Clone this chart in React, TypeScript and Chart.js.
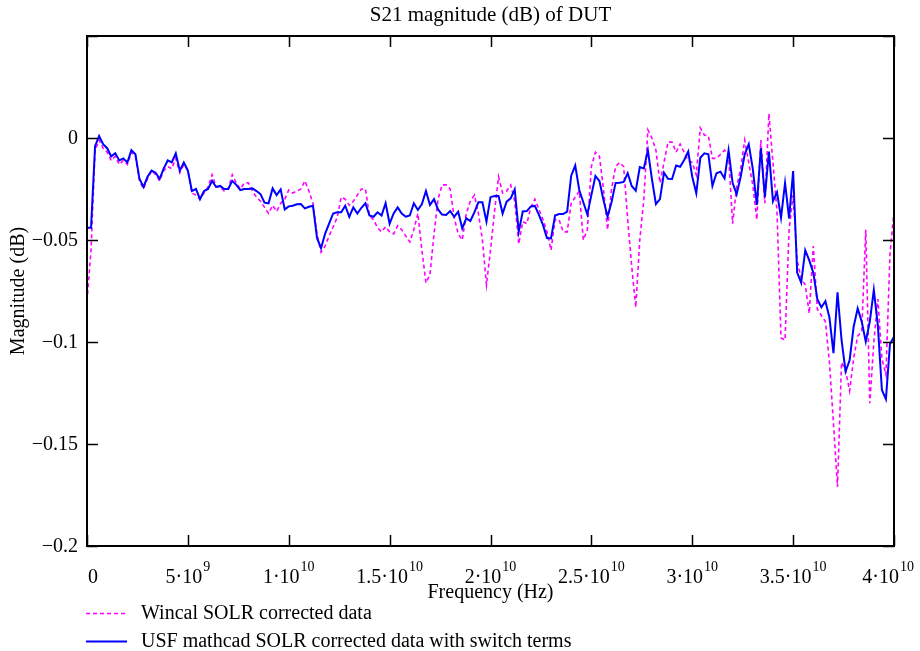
import React, { useEffect, useRef } from "react";
import { Chart, registerables } from "chart.js";

Chart.register(...registerables);

// Frequency sweep: 0 .. 40 GHz, 201 points (0.2 GHz step)
const FREQ_START_HZ = 0;
const FREQ_STEP_HZ = 2e8;

// Wincal SOLR corrected data (dB)
const WINCAL_DB = [
  -0.080, -0.055, -0.006, -0.001, -0.005, -0.007, -0.011, -0.009, -0.013, -0.011,
  -0.013, -0.007, -0.009, -0.021, -0.025, -0.020, -0.016, -0.018, -0.021, -0.016,
  -0.014, -0.015, -0.010, -0.017, -0.013, -0.016, -0.027, -0.028, -0.030, -0.027,
  -0.024, -0.018, -0.024, -0.024, -0.026, -0.025, -0.018, -0.022, -0.025, -0.022,
  -0.022, -0.026, -0.029, -0.031, -0.034, -0.037, -0.033, -0.036, -0.032, -0.030,
  -0.0255, -0.027, -0.026, -0.025, -0.021, -0.026, -0.032, -0.047, -0.056, -0.053,
  -0.048, -0.0435, -0.039, -0.029, -0.030, -0.033, -0.031, -0.028, -0.025, -0.025,
  -0.038, -0.040, -0.044, -0.046, -0.0435, -0.046, -0.047, -0.043, -0.045, -0.048,
  -0.051, -0.045, -0.037, -0.055, -0.071, -0.067, -0.047, -0.030, -0.023, -0.023,
  -0.025, -0.039, -0.047, -0.050, -0.037, -0.031, -0.028, -0.037, -0.050, -0.072,
  -0.055, -0.036, -0.019, -0.027, -0.026, -0.023, -0.031, -0.052, -0.041, -0.042,
  -0.034, -0.030, -0.035, -0.040, -0.046, -0.055, -0.040, -0.040, -0.046, -0.046,
  -0.032, -0.029, -0.026, -0.050, -0.045, -0.014, -0.007, -0.009, -0.025, -0.045,
  -0.025, -0.014, -0.012, -0.014, -0.040, -0.063, -0.083, -0.050, -0.030, 0.004,
  0.000, -0.006, -0.022, -0.012, -0.002, -0.002, -0.007, -0.003, -0.007, -0.011,
  -0.012, -0.018, 0.005, 0.0015, 0.001, -0.010, -0.010, -0.008, -0.006, -0.008,
  -0.042, -0.024, -0.015, -0.001, -0.012, -0.023, -0.040, -0.001, -0.032, 0.012,
  -0.012, -0.036, -0.098, -0.099, -0.045, -0.028, -0.060, -0.069, -0.072, -0.086,
  -0.053, -0.084, -0.087, -0.090, -0.110, -0.140, -0.171, -0.110, -0.114, -0.124,
  -0.108, -0.097, -0.095, -0.045, -0.130, -0.100, -0.079, -0.108, -0.116, -0.057,
  -0.036,
];

// USF mathcad SOLR corrected data with switch terms (dB)
const USF_DB = [
  -0.044, -0.044, -0.004, 0.001, -0.003, -0.005, -0.009, -0.0075, -0.011, -0.010,
  -0.012, -0.006, -0.008, -0.020, -0.024, -0.019, -0.016, -0.017, -0.020, -0.015,
  -0.011, -0.012, -0.0075, -0.016, -0.012, -0.016, -0.026, -0.025, -0.030, -0.026,
  -0.025, -0.021, -0.024, -0.0235, -0.025, -0.025, -0.021, -0.023, -0.0255, -0.025,
  -0.025, -0.0247, -0.026, -0.0275, -0.0317, -0.032, -0.0247, -0.028, -0.0252, -0.035,
  -0.0335, -0.0332, -0.0325, -0.0324, -0.0345, -0.0337, -0.0332, -0.049, -0.054, -0.047,
  -0.042, -0.037, -0.0364, -0.0364, -0.0332, -0.0386, -0.034, -0.037, -0.0342, -0.032,
  -0.038, -0.0386, -0.0364, -0.038, -0.032, -0.042, -0.037, -0.034, -0.037, -0.0386,
  -0.038, -0.032, -0.0353, -0.0324, -0.026, -0.0328, -0.030, -0.035, -0.0375, -0.0377,
  -0.0358, -0.0386, -0.0361, -0.0443, -0.0394, -0.0407, -0.0365, -0.0315, -0.0315, -0.041,
  -0.029, -0.0284, -0.0284, -0.037, -0.0312, -0.0296, -0.0252, -0.0459, -0.036, -0.0358,
  -0.0335, -0.0333, -0.0377, -0.0426, -0.049, -0.0492, -0.038, -0.0373, -0.0373, -0.0361,
  -0.0185, -0.0135, -0.0255, -0.0315, -0.0375, -0.028, -0.0186, -0.0211, -0.0304, -0.0385,
  -0.0315, -0.022, -0.0219, -0.0215, -0.0173, -0.0235, -0.0258, -0.0142, -0.0149, -0.006,
  -0.020, -0.0324, -0.030, -0.017, -0.020, -0.0201, -0.0135, -0.0141, -0.0108, -0.0067,
  -0.019, -0.0271, -0.0097, -0.0075, -0.008, -0.0235, -0.0173, -0.0165, -0.0198, -0.006,
  -0.022, -0.0276, -0.019, -0.008, -0.003, -0.015, -0.0328, -0.005, -0.029, -0.0067,
  -0.031, -0.0266, -0.039, -0.022, -0.0394, -0.0162, -0.066, -0.071, -0.055, -0.060,
  -0.066, -0.079, -0.083, -0.080, -0.088, -0.1055, -0.0756, -0.099, -0.1145, -0.109,
  -0.0925, -0.0835, -0.090, -0.0998, -0.090, -0.0745, -0.092, -0.1235, -0.128, -0.101,
  -0.0974,
];

const SERIES_NAMES = [
  "Wincal SOLR corrected data",
  "USF mathcad SOLR corrected data with switch terms",
];
const TITLE = "S21 magnitude (dB) of DUT";
const X_TITLE = "Frequency (Hz)";
const Y_TITLE = "Magnitude (dB)";

const X_MIN = 0;
const X_MAX = 4e10;
const Y_MIN = -0.2;
const Y_MAX = 0.05;

const X_TICKS = [0, 5e9, 1e10, 1.5e10, 2e10, 2.5e10, 3e10, 3.5e10, 4e10];
const X_TICK_BASES = ["0", "5·10", "1·10", "1.5·10", "2·10", "2.5·10", "3·10", "3.5·10", "4·10"];
const X_TICK_EXPS = ["", "9", "10", "10", "10", "10", "10", "10", "10"];

const Y_TICKS = [0.05, 0, -0.05, -0.1, -0.15, -0.2];
const Y_TICK_LABELS = ["", "0", "−0.05", "−0.1", "−0.15", "−0.2"];

const FONT = '"Liberation Serif", "Times New Roman", serif';

const decorPlugin = {
  id: "mathcadDecor",
  afterDraw(chart: any) {
    const { ctx, chartArea } = chart;
    const xs = chart.scales.x;
    const ys = chart.scales.y;
    const { left, right, top, bottom } = chartArea;
    ctx.save();
    ctx.fillStyle = "#000";
    ctx.strokeStyle = "#000";

    // frame
    ctx.lineWidth = 2;
    ctx.setLineDash([]);
    ctx.strokeRect(left, top, right - left, bottom - top);

    // inward ticks
    const TL = 11;
    ctx.lineWidth = 1.5;
    ctx.beginPath();
    X_TICKS.forEach((v) => {
      const px = Math.round(xs.getPixelForValue(v)) + 0.5;
      ctx.moveTo(px, bottom);
      ctx.lineTo(px, bottom - TL);
      ctx.moveTo(px, top);
      ctx.lineTo(px, top + TL);
    });
    Y_TICKS.forEach((v) => {
      const py = Math.round(ys.getPixelForValue(v)) + 0.5;
      ctx.moveTo(left, py);
      ctx.lineTo(left + TL, py);
      ctx.moveTo(right, py);
      ctx.lineTo(right - TL, py);
    });
    ctx.stroke();

    // y tick labels
    ctx.font = `20px ${FONT}`;
    ctx.textAlign = "right";
    ctx.textBaseline = "middle";
    Y_TICKS.forEach((v, i) => {
      const lab = Y_TICK_LABELS[i];
      if (!lab) return;
      ctx.fillText(lab, left - 9, ys.getPixelForValue(v) + 1);
    });

    // x tick labels with superscript exponents
    ctx.textAlign = "left";
    X_TICKS.forEach((v, i) => {
      const base = X_TICK_BASES[i];
      const exp = X_TICK_EXPS[i];
      ctx.font = `20px ${FONT}`;
      const wb = ctx.measureText(base).width;
      ctx.font = `14px ${FONT}`;
      const we = exp ? ctx.measureText(exp).width + 1 : 0;
      const px = xs.getPixelForValue(v);
      let x0 = px - (wb + we) / 2;
      if (i === 0) x0 = px + 1;
      if (x0 + wb + we > 914) x0 = 914 - wb - we;
      ctx.font = `20px ${FONT}`;
      ctx.fillText(base, x0, bottom + 32);
      if (exp) {
        ctx.font = `14px ${FONT}`;
        ctx.fillText(exp, x0 + wb + 1, bottom + 21);
      }
    });

    // axis titles
    ctx.font = `20px ${FONT}`;
    ctx.textAlign = "center";
    ctx.textBaseline = "middle";
    ctx.fillText(X_TITLE, (left + right) / 2, bottom + 47);
    ctx.font = `21px ${FONT}`;
    ctx.fillText(TITLE, (left + right) / 2, 15);
    ctx.font = `20px ${FONT}`;
    ctx.save();
    ctx.translate(19, (top + bottom) / 2);
    ctx.rotate(-Math.PI / 2);
    ctx.fillText(Y_TITLE, 0, 0);
    ctx.restore();

    // legend
    const ds = chart.data.datasets;
    const rows = [613, 641];
    SERIES_NAMES.forEach((name, i) => {
      const d = ds[i];
      const y = rows[i];
      ctx.save();
      ctx.strokeStyle = d.borderColor;
      ctx.lineWidth = d.borderWidth;
      ctx.setLineDash(d.borderDash || []);
      ctx.beginPath();
      ctx.moveTo(86, y + 0.5);
      ctx.lineTo(127, y + 0.5);
      ctx.stroke();
      ctx.restore();
      ctx.font = `20px ${FONT}`;
      ctx.textAlign = "left";
      ctx.textBaseline = "middle";
      ctx.fillStyle = "#000";
      ctx.fillText(name, 141, y + 1);
    });

    ctx.restore();
  },
};

export default function App() {
  const canvasRef = useRef<HTMLCanvasElement | null>(null);

  useEffect(() => {
    const canvas = canvasRef.current;
    if (!canvas) return;
    const freqs = USF_DB.map((_, i) => FREQ_START_HZ + i * FREQ_STEP_HZ);
    const chart = new Chart(canvas, {
      type: "line",
      data: {
        datasets: [
          {
            label: SERIES_NAMES[0],
            data: WINCAL_DB.map((v, i) => ({ x: freqs[i], y: v })),
            borderColor: "#ff00ff",
            borderWidth: 1.6,
            borderDash: [4, 3],
            pointRadius: 0,
            tension: 0,
            fill: false,
            order: 2,
          },
          {
            label: SERIES_NAMES[1],
            data: USF_DB.map((v, i) => ({ x: freqs[i], y: v })),
            borderColor: "#0000ff",
            borderWidth: 2,
            pointRadius: 0,
            tension: 0,
            fill: false,
            order: 1,
          },
        ],
      },
      options: {
        responsive: false,
        devicePixelRatio: 1,
        animation: false,
        layout: { padding: { left: 87, right: 26, top: 36, bottom: 105 } },
        scales: {
          x: { type: "linear", min: X_MIN, max: X_MAX, display: false },
          y: { type: "linear", min: Y_MIN, max: Y_MAX, display: false },
        },
        plugins: {
          legend: { display: false },
          tooltip: { enabled: false },
          title: { display: false },
        },
      },
      plugins: [decorPlugin],
    });
    return () => chart.destroy();
  }, []);

  return (
    <div style={{ position: "fixed", left: 0, top: 0, width: 920, height: 651, background: "#fff" }}>
      <canvas ref={canvasRef} width={920} height={651} style={{ display: "block" }} />
    </div>
  );
}
